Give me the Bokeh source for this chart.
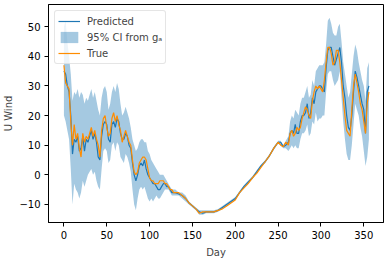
from bokeh.plotting import figure
from bokeh.models import FixedTicker, Range1d
from bokeh.embed import file_html
from bokeh.resources import INLINE

days = [0, 2, 4, 6, 8, 10, 12, 14, 16, 18, 20, 22, 24, 26, 28, 30, 32, 34, 36, 38,
        40, 42, 44, 46, 48, 50, 52, 54, 56, 58, 60, 62, 64, 66, 68, 70, 72, 74, 76, 78,
        80, 82, 84, 86, 88, 90, 92, 94, 96, 98, 100, 102, 104, 106, 108, 110, 112, 114, 116, 118,
        120, 122, 124, 126, 128, 130, 134, 138, 142, 146, 150, 154, 158, 162, 166, 170, 175, 180, 185, 190,
        195, 200, 205, 210, 215, 220, 225, 230, 235, 240, 245, 250, 253, 256, 259, 262, 264, 266, 268, 270,
        272, 274, 276, 278, 280, 282, 284, 286, 288, 290, 292, 294, 296, 298, 300, 302, 304, 306, 308, 310,
        312, 314, 316, 318, 320, 322, 324, 326, 328, 330, 332, 334, 336, 338, 340, 342, 344, 346, 348, 350,
        352, 354, 356]

true_vals = [37, 31, 30, 29, 18, 10, 17, 12, 14, 9, 6, 14, 11, 13, 12, 14, 16, 13, 15, 12,
             10, 6, 15, 19, 20, 16, 13, 14, 19, 21, 18, 20, 17, 15, 11, 13, 15, 13, 11, 10,
             5, 1, 0, 1, 4, 5, 6, 6, 5, 2, -1, -2, -2, -3, -3, -3, -2, -2, -2, -3,
             -3, -4, -5, -5, -6, -6, -6, -7, -8, -9.5, -10.5, -11.5, -13, -12.5, -12.5, -12.5, -12.5, -12, -11.5, -10.5,
             -9.5, -8.5, -6, -4.5, -3, -1, 0.5, 2.5, 4.5, 6.5, 9, 11, 10, 9.5, 11, 10, 14, 15, 13, 14,
             16, 15, 16, 19, 21, 23, 22, 20, 19, 25, 28, 30, 29, 30, 29, 28, 32, 38, 43, 43,
             41, 37, 38, 42, 42, 38, 32, 26, 20, 15, 14, 13, 22, 30, 34, 31, 28, 24, 22, 18,
             14, 24, 28]

pred_vals = [35, 34, 30, 28, 20, 7, 12, 11, 13, 8, 9, 13, 8, 12, 11, 13, 15, 12, 14, 11,
             6, 5, 13, 17, 18, 17, 12, 11, 17, 18, 16, 19, 18, 14, 12, 12, 14, 13, 10, 9,
             4, 0, -2, 0, 3, 4, 3, 5, 2, 0, -1, -2, -3, -3, -4, -5, -5, -4, -3, -3,
             -4, -4, -5, -6, -6, -6, -6.5, -7, -8, -9.5, -10.5, -11.5, -12.5, -13, -12.5, -12.5, -12.5, -12, -11, -10,
             -9, -8, -6, -4, -2.5, -1, 1, 3, 4.5, 6.5, 9, 11, 11, 9.5, 10, 11, 14, 15, 14, 17,
             14, 14, 18, 20, 20, 21, 24, 19, 21, 26, 24, 28, 29, 30, 30, 29, 28, 36, 42, 43,
             43, 40, 37, 39, 41, 43, 38, 30, 26, 20, 16, 15, 20, 28, 35, 33, 30, 27, 24, 22,
             14, 28, 30]

ci_low = [20, 18, 15, 12, 2, -10, -3, -5, -6, -8, -6, -2, -4, -2, 0, 1, 2, 0, 1, -2,
          -4, -5, 2, 8, 9, 8, 4, 5, 10, 11, 8, 11, 10, 6, 5, 4, 7, 6, 4, 1,
          -5, -10, -12, -8, -5, -4, -5, -4, -6, -8, -9, -8, -9, -8, -7, -8, -8, -7, -6, -5,
          -5, -5, -6, -7, -7, -7, -7, -8, -9, -10, -11, -12, -13.5, -13.5, -13, -13, -13, -12.5, -11.5, -10.5,
          -9.5, -8.5, -6.5, -4.5, -3, -1.5, 0.5, 2.5, 4, 6, 8.5, 10.5, 10, 9, 9, 8, 9, 10, 9, 10,
          9, 9, 12, 14, 14, 15, 17, 13, 14, 18, 17, 21, 18, 19, 19, 20, 20, 28, 34, 35,
          35, 32, 30, 31, 32, 35, 26, 18, 12, 7, 5, 5, 10, 17, 24, 22, 20, 16, 13, 8,
          3, 6, 12]

ci_high = [50, 52, 45, 40, 34, 25, 28, 27, 29, 26, 28, 27, 24, 26, 25, 27, 29, 26, 28, 25,
           22, 20, 26, 29, 30, 28, 22, 24, 28, 30, 28, 31, 29, 24, 20, 21, 23, 21, 19, 16,
           12, 10, 8, 9, 11, 12, 12, 11, 11, 8, 7, 5, 4, 3, 2, 1, 0, 0, 0, -1,
           -2, -3, -4, -5, -5, -5, -6, -6, -7, -9, -10, -11, -12, -12, -12, -12, -12, -11.5, -10.5, -9.5,
           -8.5, -7.5, -5.5, -3.5, -2, -0.5, 1.5, 3.5, 5, 7, 9.5, 11.5, 11.5, 10, 11.5, 13, 18, 20, 19, 22,
           21, 20, 24, 26, 26, 28, 30, 26, 27, 32, 30, 35, 36, 37, 37, 37, 38, 44, 52, 53,
           51, 48, 47, 47, 50, 51, 45, 38, 34, 30, 26, 28, 34, 40, 44, 42, 38, 35, 32, 30,
           25, 36, 38]

x_ticks = [0, 50, 100, 150, 200, 250, 300, 350]
y_ticks = [-10, 0, 10, 20, 30, 40, 50]

FONT = "DejaVu Sans"

p = figure(frame_width=335, frame_height=218, output_backend="svg", toolbar_location=None,
           x_range=Range1d(-18, 373), y_range=Range1d(-16.1, 57.5),
           min_border_left=41, min_border_right=2, min_border_top=4, min_border_bottom=10)

p.line(days, pred_vals, line_color="#1f77b4", line_width=1.2, legend_label="Predicted")
p.varea(x=days, y1=ci_low, y2=ci_high, fill_color="#1f77b4", fill_alpha=0.4,
        legend_label="95% CI from gₐ")
p.line(days, true_vals, line_color="#ff8c00", line_width=1.2, legend_label="True")

p.xgrid.visible = False
p.ygrid.visible = False
p.outline_line_color = "black"
p.outline_line_width = 1
p.outline_line_alpha = 1

for ax in (p.xaxis[0], p.yaxis[0]):
    ax.minor_tick_line_color = None
    ax.major_tick_in = 0
    ax.major_tick_out = 4
    ax.major_label_text_font = FONT
    ax.major_label_text_font_size = "10px"
    ax.major_label_text_color = "black"
    ax.axis_label_text_font = FONT
    ax.axis_label_text_font_size = "10px"
    ax.axis_label_text_font_style = "normal"
    ax.axis_line_color = "black"

p.xaxis[0].ticker = FixedTicker(ticks=x_ticks)
p.yaxis[0].ticker = FixedTicker(ticks=y_ticks)
p.xaxis[0].axis_label = "Day"
p.yaxis[0].axis_label = "U Wind"
p.xaxis[0].major_label_standoff = 4
p.xaxis[0].axis_label_standoff = 5
p.yaxis[0].major_label_standoff = 4
p.yaxis[0].axis_label_standoff = 2

lg = p.legend[0]
lg.location = "top_left"
lg.margin = 6
lg.padding = 3
lg.spacing = 2
lg.glyph_width = 22
lg.glyph_height = 14
lg.label_height = 14
lg.label_standoff = 7
lg.label_text_font = FONT
lg.label_text_font_size = "10px"
lg.border_line_color = "#cccccc"
lg.background_fill_alpha = 0.8
lg.border_radius = 3

open("out.html", "w").write(file_html(p, INLINE))
